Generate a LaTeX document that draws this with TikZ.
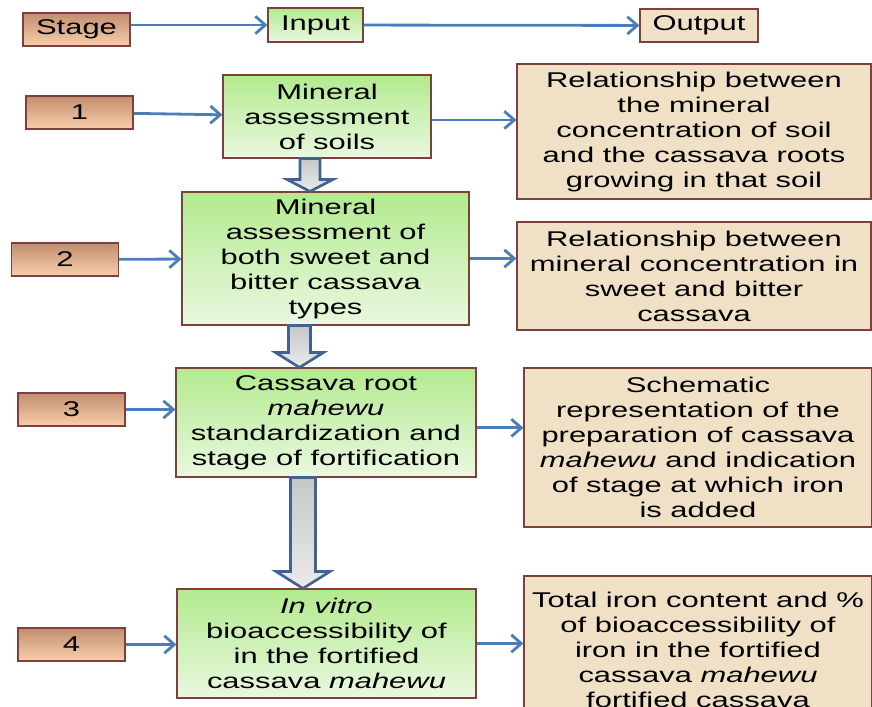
\documentclass[tikz,border=0pt]{standalone}
\usepackage{fontspec}
\setmainfont{Liberation Sans}[FakeStretch=1.45]
\usetikzlibrary{arrows.meta,calc}

\definecolor{boxline}{RGB}{127,63,63}
\definecolor{arrowblue}{RGB}{74,126,187}
\definecolor{hollowline}{RGB}{65,100,143}
\definecolor{greentop}{RGB}{178,234,142}
\definecolor{greenbot}{RGB}{234,248,224}
\definecolor{tantop}{RGB}{192,142,112}
\definecolor{tanbot}{RGB}{249,206,170}
\definecolor{parchment}{RGB}{239,224,198}

% from node, to node, x offset, shaft half width, head half width, head length
\newcommand{\hollowdown}[6]{%
  \coordinate (top) at ($(#1.south)+(#3,0)$);
  \coordinate (tip) at (top |- #2.north);
  \draw[hollow] ($(top)+(-#4,0)$) -- ($(top)+(#4,0)$) -- ($(tip)+(#4,-#6)$)
    -- ($(tip)+(#5,-#6)$) -- (tip) -- ($(tip)+(-#5,-#6)$) -- ($(tip)+(-#4,-#6)$) -- cycle;}

\begin{document}
\begin{tikzpicture}[x=0.75pt,y=-0.75pt]
   \tikzstyle{every node}=[font=\fontsize{16}{18.75}\selectfont, align=center, inner sep=0pt, draw=boxline, line width=0.8pt]
   \tikzstyle{stagebox}=[top color=tantop, bottom color=tanbot, minimum width=80.25pt, minimum height=24.75pt]
   \tikzstyle{inbox}=[top color=greentop, bottom color=greenbot]
   \tikzstyle{outbox}=[fill=parchment]
   \tikzstyle{flow}=[draw=arrowblue, line width=2.1pt, -{Straight Barb[length=7.5pt, width=13pt]}]
   \tikzstyle{hollow}=[draw=hollowline, line width=2pt, line join=miter, top color=black!22, bottom color=black!8]

\useasboundingbox (0,0) rectangle (872,707);
\clip (0,0) rectangle (872,707);

\node[stagebox] (stage) at (76.5,29.5) {Stage};
\node[inbox, minimum width=71.25pt, minimum height=25.5pt] (input) at (315.5,25) {Input};
\node[outbox, minimum width=88.5pt, minimum height=24.75pt] (output) at (699,25.5) {Output};

\node[stagebox] (s1) at (79.5,112.5) {1};
\node[inbox, minimum width=156pt, minimum height=62.25pt] (m1) at (327,116.5) {Mineral\\assessment\\of soils};
\node[outbox, minimum width=265.5pt, minimum height=101.25pt] (o1) at (694,131.5) {Relationship between\\the mineral\\concentration of soil\\and the cassava roots\\growing in that soil};

\node[stagebox] (s2) at (65,259.5) {2};
\node[inbox, minimum width=215.25pt, minimum height=99.75pt] (m2) at (325.5,258.5) {Mineral\\assessment of\\both sweet and\\bitter cassava\\types};
\node[outbox, minimum width=265.5pt, minimum height=81pt] (o2) at (694,276) {Relationship between\\mineral concentration in\\sweet and bitter\\cassava};

\node[stagebox] (s3) at (71.5,409.5) {3};
\node[inbox, minimum width=225pt, minimum height=81.75pt] (m3) at (326,422.5) {Cassava root\\\textit{mahewu}\\standardization and\\stage of fortification};
\node[outbox, minimum width=261pt, minimum height=119.25pt] (o3) at (698,447.5) {Schematic\\representation of the\\preparation of cassava\\\textit{mahewu} and indication\\of stage at which iron\\is added};

\node[stagebox] (s4) at (71.5,644.5) {4};
\node[inbox, minimum width=224.25pt, minimum height=81.75pt] (m4) at (326.5,643.5) {\textit{In vitro}\\bioaccessibility of\\in the fortified\\cassava \textit{mahewu}};
\node[outbox, minimum width=261pt, minimum height=111pt] (o4) at (698,650) {Total iron content and \%\\of bioaccessibility of\\iron in the fortified\\cassava \textit{mahewu}\\fortified cassava};

\draw[flow] (stage.east |- input.west) -- (input.west);
\draw[flow] (input) -- (output);
\draw[flow] (s1) -- (m1);
\draw[flow] ([yshift=-2.6pt]m1.east) -- ([yshift=-2.6pt]m1.east -| o1.west);
\draw[flow] (s2) -- (m2);
\draw[flow] (m2.east) -- (m2.east -| o2.west);
\draw[flow] (s3.east) -- (s3.east -| m3.west);
\draw[flow] ([yshift=-4pt]m3.east) -- ([yshift=-4pt]m3.east -| o3.west);
\draw[flow] (s4.east) -- (s4.east -| m4.west);
\draw[flow] (m4.east) -- (m4.east -| o4.west);

\hollowdown{m1}{m2}{-17}{10}{23}{12}
\hollowdown{m2}{m3}{-26}{11}{24}{15}
\hollowdown{m3}{m4}{-23}{12.5}{27}{17}

\end{tikzpicture}
\end{document}
